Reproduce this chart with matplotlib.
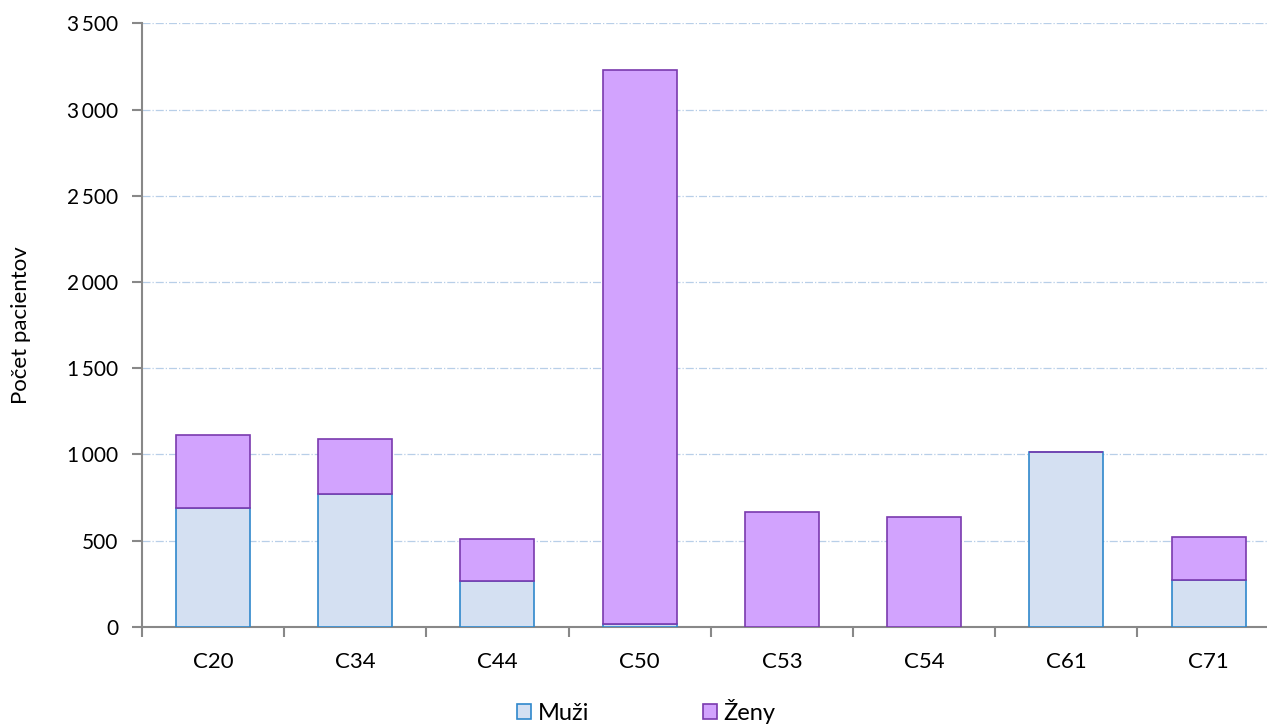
import numpy as np
import matplotlib.pyplot as plt

categories = ['C20', 'C34', 'C44', 'C50', 'C53', 'C54', 'C61', 'C71']
muzi = [691, 769, 266, 20, 0, 0, 1014, 272]
zeny = [423, 318, 242, 3209, 666, 637, 0, 249]

plt.rcParams['font.family'] = ['Lato', 'DejaVu Sans']

fig = plt.figure(figsize=(12.67, 7.27), dpi=100)
ax = fig.add_axes([0.112, 0.1376, 0.898, 0.8304])

x = np.arange(len(categories))
w = 0.52
ax.bar(x, muzi, w, color='#d4e0f2', edgecolor='#2f88cc', linewidth=1.2, label='Muži', zorder=3)
ax.bar(x, zeny, w, bottom=muzi, color='#d2a3fe', edgecolor='#7a3aae', linewidth=1.2, label='Ženy', zorder=3)

ax.set_xlim(-0.5, len(categories) - 0.5)
ax.set_ylim(0, 3500)
ax.set_yticks(np.arange(0, 3501, 500))
ax.set_yticklabels([f'{v:,}'.replace(',', '\u2009') if v >= 1000 else str(v) for v in range(0, 3501, 500)])
ax.set_xticks(x)
ax.set_xticklabels(categories)
ax.set_xticks(np.arange(-0.5, len(categories)), minor=True)
ax.tick_params(axis='x', which='major', length=0, pad=18, labelsize=16)
ax.tick_params(axis='x', which='minor', length=7, color='#888888', width=1.5)
ax.tick_params(axis='y', length=7, color='#888888', width=1.5, labelsize=15, pad=10)

ax.grid(axis='y', color='#b8cfe8', linestyle='-.', linewidth=0.9, zorder=0)
for s in ['top', 'right']:
    ax.spines[s].set_visible(False)
for s in ['left', 'bottom']:
    ax.spines[s].set_color('#888888')
    ax.spines[s].set_linewidth(1.5)

ax.set_ylabel('Počet pacientov', fontsize=16, labelpad=26)

fig.legend(loc='lower center', bbox_to_anchor=(0.51, -0.025), ncol=2, frameon=False,
           fontsize=17, handlelength=0.6, handleheight=0.6, handletextpad=0.3, columnspacing=4.8)

fig.savefig('out.png', dpi=100)
